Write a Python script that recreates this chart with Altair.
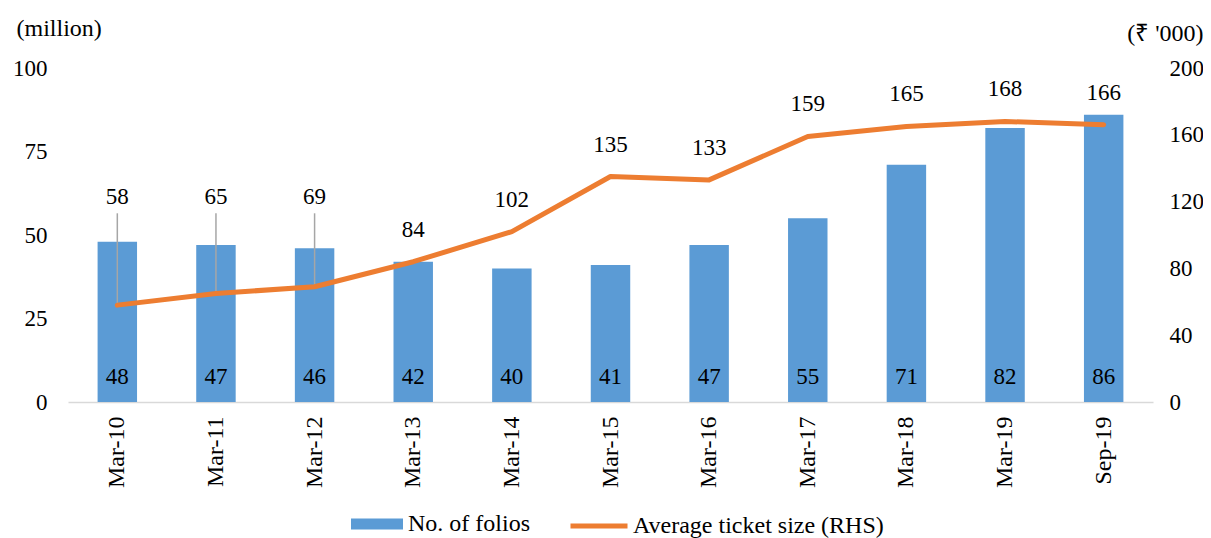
import altair as alt
import pandas as pd

periods = ["Mar-10", "Mar-11", "Mar-12", "Mar-13", "Mar-14", "Mar-15",
           "Mar-16", "Mar-17", "Mar-18", "Mar-19", "Sep-19"]
folios = [48, 47, 46, 42, 40, 41, 47, 55, 71, 82, 86]
ticket = [58, 65, 69, 84, 102, 135, 133, 159, 165, 168, 166]
leader = [True, True, True, False, False, False, False, False, False, False, False]
left_ticks = [0, 25, 50, 75, 100]
right_ticks = [0, 40, 80, 120, 160, 200]
series_bar = "No. of folios"
series_line = "Average ticket size (RHS)"

FONT = "Liberation Serif"
BLUE = "#5B9BD5"
ORANGE = "#ED7D31"
FS = 23
FS2 = 24

df = pd.DataFrame({
    "period": periods, "folios": folios, "ticket": ticket, "leader": leader,
    "s1": series_bar, "s2": series_line,
})

x = alt.X("period:N", sort=periods,
          scale=alt.Scale(paddingInner=0.6, paddingOuter=0.3),
          axis=alt.Axis(title=None, labelAngle=-90, labelFont=FONT, labelFontSize=FS2,
                        labelColor="black", ticks=False, domainColor="#d9d9d9",
                        domainWidth=1.5, labelPadding=14))

left_axis = alt.Axis(values=left_ticks, title="(million)", titleAngle=0, titleAlign="left",
                     titleBaseline="middle", titleX=-52, titleY=-40, titleFont=FONT,
                     titleFontSize=FS2, titleFontWeight="normal", titleColor="black",
                     labelFont=FONT, labelFontSize=FS, labelColor="black", grid=False,
                     ticks=False, domain=False, labelPadding=21)
right_axis = alt.Axis(orient="right", values=right_ticks, title="(₹ '000)", titleAngle=0,
                      titleAlign="right", titleBaseline="middle", titleX=50, titleY=-35,
                      titleFont=FONT, titleFontSize=FS2, titleFontWeight="normal",
                      titleColor="black", labelFont=FONT, labelFontSize=FS, labelColor="black",
                      grid=False, ticks=False, domain=False, labelPadding=16)
lscale = alt.Scale(domain=[0, 100])
rscale = alt.Scale(domain=[0, 200])

base = alt.Chart(df)

bars = base.mark_bar().encode(
    x=x,
    y=alt.Y("folios:Q", scale=lscale, axis=left_axis),
    fill=alt.Fill("s1:N", scale=alt.Scale(range=[BLUE]),
                  legend=alt.Legend(title=None, orient="none", legendX=283, legendY=430,
                                    symbolType="M-1,-0.21L1,-0.21L1,0.21L-1,0.21Z",
                                    symbolSize=2704, symbolStrokeWidth=0,
                                    symbolFillColor=BLUE, labelFont=FONT,
                                    labelFontSize=FS2, labelColor="black", labelOffset=5,
                                    labelLimit=0, padding=0)),
)
bar_text = base.mark_text(dy=-25, baseline="middle", font=FONT, fontSize=FS, color="black").encode(
    x=x,
    y=alt.YDatum(0, scale=lscale, axis=left_axis),
    text=alt.Text("folios:Q", format=".0f"),
)
left = alt.layer(bars, bar_text)

leader_rule = base.transform_filter("datum.leader").mark_rule(color="#a6a6a6", strokeWidth=1.5).encode(
    x=x,
    y=alt.Y("ticket:Q", scale=rscale, axis=right_axis),
    y2=alt.Y2Datum(113),
)
line = base.mark_line(strokeWidth=5, strokeJoin="round", strokeCap="round").encode(
    x=x,
    y=alt.Y("ticket:Q", scale=rscale, axis=right_axis),
    stroke=alt.Stroke("s2:N", scale=alt.Scale(range=[ORANGE]),
                      legend=alt.Legend(title=None, orient="none", legendX=500, legendY=427,
                                        symbolType="stroke", symbolSize=3249,
                                        symbolStrokeWidth=5, symbolStrokeColor=ORANGE,
                                        labelFont=FONT, labelFontSize=FS2,
                                        labelColor="black", labelOffset=3, labelLimit=0,
                                        padding=0)),
)
line_text = base.transform_filter("!datum.leader").mark_text(
    dy=-32, baseline="middle", font=FONT, fontSize=FS, color="black").encode(
    x=x,
    y=alt.Y("ticket:Q", scale=rscale, axis=right_axis),
    text=alt.Text("ticket:Q", format=".0f"),
)
leader_text = base.transform_filter("datum.leader").mark_text(
    baseline="middle", font=FONT, fontSize=FS, color="black").encode(
    x=x,
    y=alt.YDatum(123, scale=rscale, axis=right_axis),
    text=alt.Text("ticket:Q", format=".0f"),
)
right = alt.layer(leader_rule, line, line_text, leader_text)

chart = alt.layer(left, right).resolve_scale(y="independent").properties(
    width=1085, height=334,
    autosize=alt.AutoSizeParams(type="none"),
    padding={"left": 60, "top": 60, "right": 50, "bottom": 136},
).configure_view(stroke=None)

chart.save("out.html", embed_options={"renderer": "svg", "actions": False})
